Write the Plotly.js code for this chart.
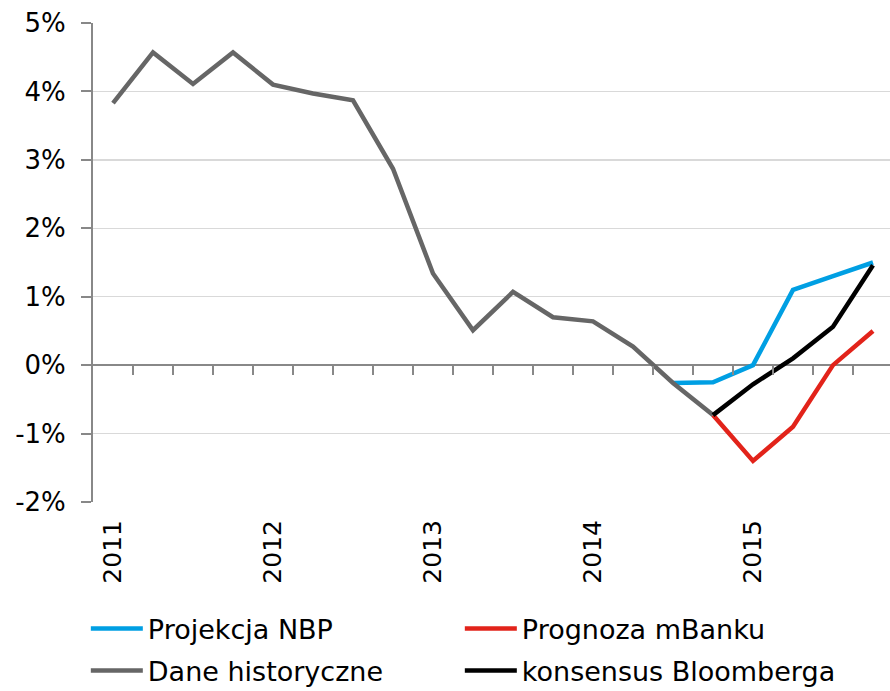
<!DOCTYPE html>
<html>
<head>
<meta charset="utf-8">
<script src="https://cdn.plot.ly/plotly-3.0.1.min.js"></script>
<style>html,body{margin:0;padding:0;background:#fff;}#chart{width:890px;height:691px;}</style>
</head>
<body>
<div id="chart"></div>
<script>
// Quarterly categories 2011Q1 .. 2015Q4
const quarters = ['2011Q1','2011Q2','2011Q3','2011Q4','2012Q1','2012Q2','2012Q3','2012Q4',
                  '2013Q1','2013Q2','2013Q3','2013Q4','2014Q1','2014Q2','2014Q3','2014Q4',
                  '2015Q1','2015Q2','2015Q3','2015Q4'];
const yearLabels = ['2011','2012','2013','2014','2015'];
const yearQuarters = ['2011Q1','2012Q1','2013Q1','2014Q1','2015Q1'];

// Values in %
const daneHistoryczne = [3.83, 4.57, 4.11, 4.57, 4.10, 3.97, 3.87, 2.87, 1.34, 0.51, 1.07, 0.70,
                         0.64, 0.27, -0.26, -0.73, null, null, null, null];
const projekcjaNBP = [null, null, null, null, null, null, null, null, null, null, null, null,
                      null, null, -0.26, -0.25, 0.00, 1.10, 1.30, 1.50];
const prognozaMBanku = [null, null, null, null, null, null, null, null, null, null, null, null,
                        null, null, null, -0.73, -1.40, -0.90, 0.00, 0.50];
const konsensusBloomberga = [null, null, null, null, null, null, null, null, null, null, null, null,
                             null, null, null, -0.73, -0.28, 0.10, 0.56, 1.46];

const yTicks = [-2, -1, 0, 1, 2, 3, 4, 5];

const xIdx = quarters.map((q, i) => i);
const font = 'DejaVu Sans, Verdana, sans-serif';

function tr(name, y, color, legend) {
  return {
    type: 'scatter', mode: 'lines', name: name,
    x: xIdx, y: y, connectgaps: false,
    line: {color: color, width: 4.5},
    legend: legend, hoverinfo: 'skip'
  };
}

const data = [
  tr('Projekcja NBP', projekcjaNBP, '#009FE3', 'legend'),
  tr('Prognoza mBanku', prognozaMBanku, '#E2231A', 'legend'),
  tr('Dane historyczne', daneHistoryczne, '#666666', 'legend2'),
  tr('konsensus Bloomberga', konsensusBloomberga, '#000000', 'legend2')
];

const legendCommon = {
  orientation: 'h', xanchor: 'left', yanchor: 'middle',
  font: {family: font, size: 27, color: '#000'},
  itemwidth: 52, entrywidth: 307, entrywidthmode: 'pixels',
  bgcolor: 'rgba(0,0,0,0)', borderwidth: 0, traceorder: 'normal'
};

const layout = {
  width: 890, height: 691,
  margin: {l: 93, r: 0, t: 23, b: 189, autoexpand: false},
  paper_bgcolor: '#fff', plot_bgcolor: '#fff',
  font: {family: font, size: 25, color: '#000'},
  showlegend: true,
  xaxis: {
    range: [-0.5, 19.425], fixedrange: true, automargin: false,
    tickmode: 'array',
    tickvals: yearQuarters.map(q => quarters.indexOf(q)),
    ticktext: yearLabels,
    tickangle: -90, ticks: '', showgrid: false, zeroline: false, showline: false,
    ticklabelstandoff: 12,
    tickfont: {family: font, size: 25, color: '#000'}
  },
  xaxis2: {
    overlaying: 'x', anchor: 'free', position: 2 / 7, matches: 'x',
    range: [-0.5, 19.425], automargin: false,
    tickmode: 'array',
    tickvals: quarters.map((q, i) => i + 0.5),
    showticklabels: false, ticks: 'outside', ticklen: 9, tickwidth: 2, tickcolor: '#888888',
    showgrid: false, zeroline: false, showline: false
  },
  yaxis: {
    range: [-2, 5], fixedrange: true, automargin: false,
    tickmode: 'array', tickvals: yTicks, ticktext: yTicks.map(v => v + '%'),
    ticks: 'outside', ticklen: 10, tickwidth: 2, tickcolor: '#888888',
    showline: true, linecolor: '#888888', linewidth: 2,
    showgrid: true, gridcolor: '#D9D9D9', gridwidth: 1.5,
    zeroline: true, zerolinecolor: '#888888', zerolinewidth: 2.5,
    ticklabelstandoff: 10,
    tickfont: {family: font, size: 26, color: '#000'}
  },
  legend: Object.assign({}, legendCommon, {x: -0.009, y: -(629 - 502) / 479}),
  legend2: Object.assign({}, legendCommon, {x: -0.009, y: -(671 - 502) / 479})
};

// helper trace so that the zero-line tick axis (xaxis2) is drawn
data.push({type: 'scatter', mode: 'lines', x: [0], y: [null], xaxis: 'x2', yaxis: 'y',
           showlegend: false, hoverinfo: 'skip'});

Plotly.newPlot('chart', data, layout, {displayModeBar: false, staticPlot: true});
</script>
</body>
</html>
